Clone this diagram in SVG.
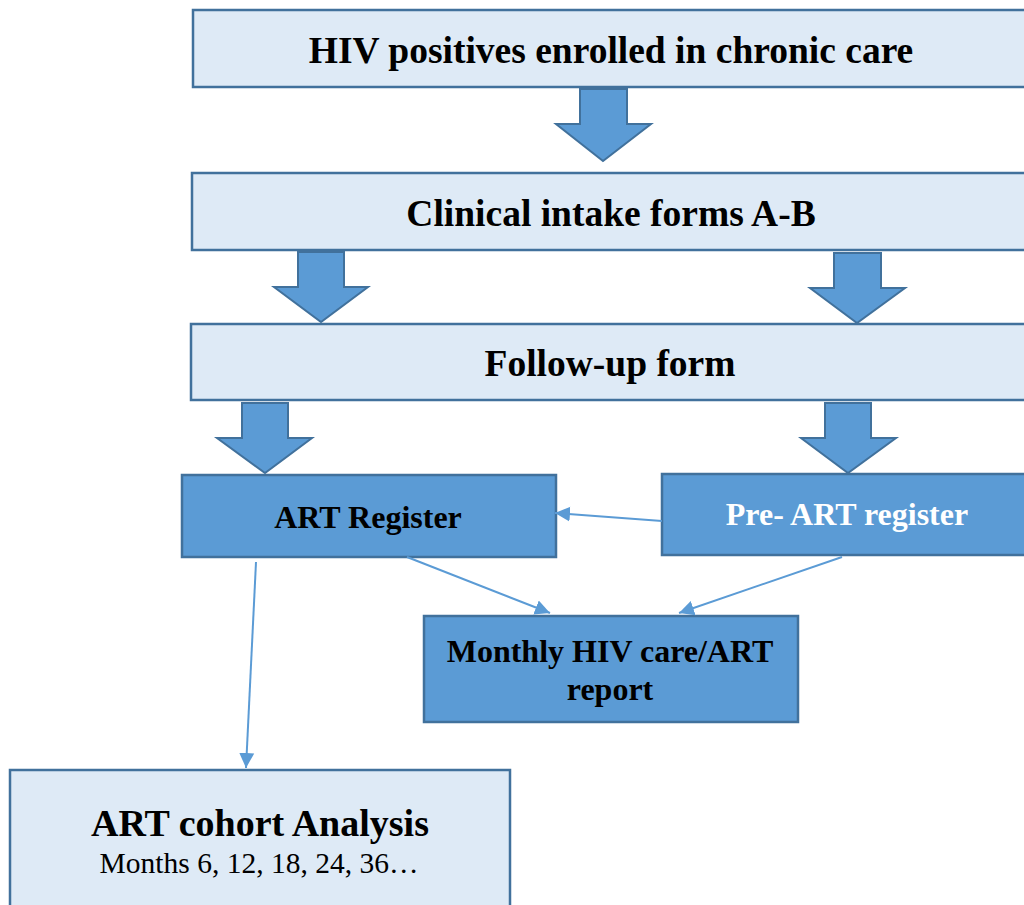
<svg xmlns="http://www.w3.org/2000/svg" width="1024" height="905" viewBox="0 0 1024 905">
<style>
.light{fill:#DEEAF6;stroke:#41719C;stroke-width:2.5}
.dark{fill:#5B9BD5;stroke:#41719C;stroke-width:2.5}
.blk{fill:#5B9BD5;stroke:#41719C;stroke-width:2;stroke-linejoin:miter}
.conn{stroke:#5B9BD5;stroke-width:2;fill:none;marker-end:url(#ah)}
text{font-family:"Liberation Serif","Times New Roman",serif;text-anchor:middle}
.b{font-weight:bold}
</style>
<defs>
<marker id="ah" markerUnits="userSpaceOnUse" markerWidth="16" markerHeight="16" viewBox="0 0 16 16" refX="15" refY="8" orient="auto">
<path d="M0,0.5 L15,8 L0,15.5 Z" fill="#5B9BD5"/>
</marker>
</defs>
<rect width="1024" height="905" fill="#FFFFFF"/>

<g id="n1">
<rect class="light" x="193" y="10" width="840" height="77"/>
<text class="b" x="611" y="63" font-size="37.5">HIV positives enrolled in chronic care</text>
</g>
<g id="n2">
<rect class="light" x="192" y="173" width="840" height="77"/>
<text class="b" x="611" y="226" font-size="37.5">Clinical intake forms A-B</text>
</g>
<g id="n3">
<rect class="light" x="191" y="324" width="840" height="76"/>
<text class="b" x="610" y="376" font-size="37.5">Follow-up form</text>
</g>
<g id="n4">
<rect class="dark" x="182" y="475" width="374" height="82"/>
<text class="b" x="368" y="528" font-size="32" fill="#000000">ART Register</text>
</g>
<g id="n5">
<rect class="dark" x="662" y="474" width="370" height="81"/>
<text class="b" x="847" y="525" font-size="32" fill="#FFFFFF">Pre- ART register</text>
</g>
<g id="n6">
<rect class="dark" x="424" y="616" width="374" height="106"/>
<text class="b" x="610" y="662" font-size="32" fill="#000000">Monthly HIV care/ART</text>
<text class="b" x="610" y="700" font-size="32" fill="#000000">report</text>
</g>
<g id="n7">
<rect class="light" x="10" y="770" width="500" height="145"/>
<text class="b" x="260" y="836" font-size="38">ART cohort Analysis</text>
<text x="259" y="873" font-size="29.5">Months 6, 12, 18, 24, 36…</text>
</g>

<g id="connectors">
<polygon class="blk" points="580,89 627,89 627,124 651,124 603,161 556,124 580,124"/>
<polygon class="blk" points="298,252 344,252 344,287 368,287 321,322 274,287 298,287"/>
<polygon class="blk" points="834,253 881,253 881,288 905,288 857,323 810,288 834,288"/>
<polygon class="blk" points="242,403 288,403 288,438 312,438 265,473 217,438 242,438"/>
<polygon class="blk" points="825,403 871,403 871,438 896,438 848,473 801,438 825,438"/>
<line class="conn" x1="662" y1="521" x2="555" y2="513"/>
<line class="conn" x1="407" y1="557" x2="550" y2="613"/>
<line class="conn" x1="842" y1="557" x2="679" y2="613"/>
<line class="conn" x1="256" y1="562" x2="246" y2="768"/>
</g>
</svg>
